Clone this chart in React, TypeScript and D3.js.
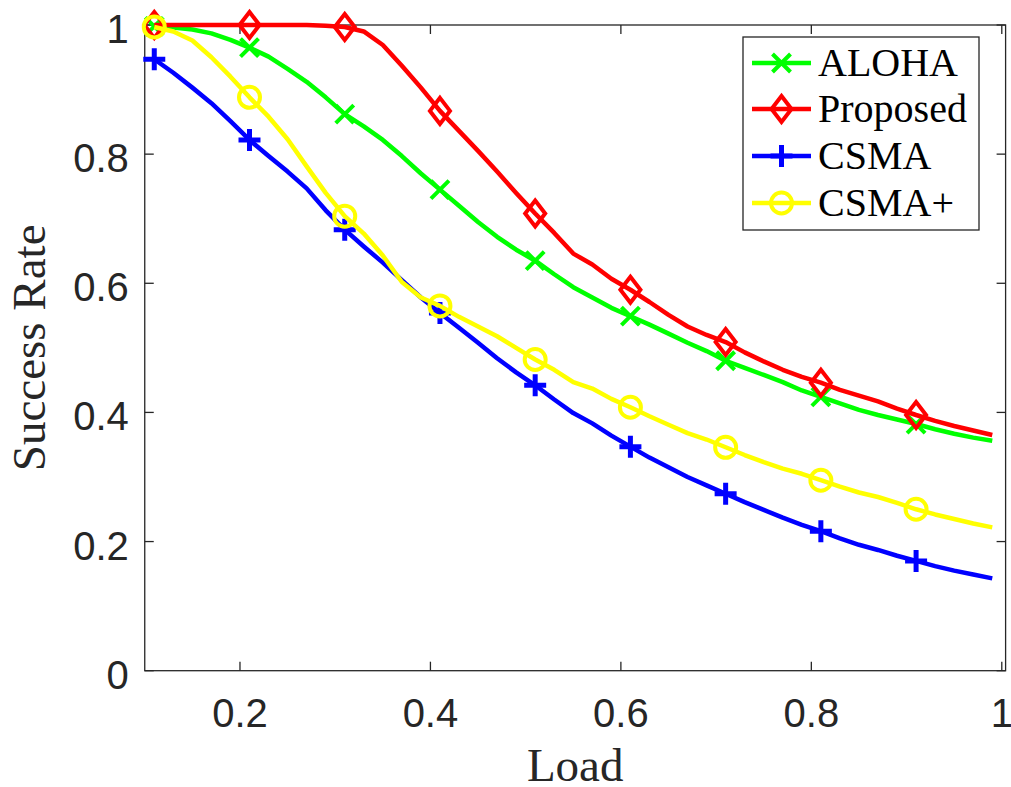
import React from "react";
import * as d3 from "d3";

const loads = [
  0.11, 0.13, 0.15, 0.17, 0.19, 0.21, 0.23, 0.25, 0.27, 0.29,
  0.31, 0.33, 0.35, 0.37, 0.39, 0.41, 0.43, 0.45, 0.47, 0.49,
  0.51, 0.53, 0.55, 0.57, 0.59, 0.61, 0.63, 0.65, 0.67, 0.69,
  0.71, 0.73, 0.75, 0.77, 0.79, 0.81, 0.83, 0.85, 0.87, 0.89,
  0.91, 0.93, 0.95, 0.97, 0.99,
];

const aloha = [
  0.998, 0.996, 0.993, 0.987, 0.977, 0.965, 0.951, 0.932, 0.912, 0.888,
  0.862, 0.843, 0.822, 0.797, 0.77, 0.745, 0.72, 0.695, 0.672, 0.652,
  0.635, 0.614, 0.594, 0.578, 0.562, 0.549, 0.536, 0.522, 0.508, 0.495,
  0.48, 0.469, 0.458, 0.447, 0.434, 0.424, 0.414, 0.404, 0.396, 0.389,
  0.382, 0.374, 0.367, 0.361, 0.356,
];

const proposed = [
  1.0, 1.0, 1.0, 1.0, 1.0, 1.0, 1.0, 1.0, 1.0, 0.999,
  0.997, 0.99, 0.969, 0.937, 0.903, 0.867, 0.836, 0.805, 0.773, 0.74,
  0.708, 0.678, 0.646, 0.629, 0.607, 0.59, 0.571, 0.551, 0.533, 0.52,
  0.509, 0.493, 0.479, 0.466, 0.455, 0.446, 0.435, 0.426, 0.417, 0.406,
  0.396, 0.387, 0.379, 0.372, 0.365,
];

const csma = [
  0.947, 0.926, 0.903, 0.879, 0.851, 0.822, 0.797, 0.773, 0.747, 0.713,
  0.683, 0.657, 0.632, 0.605, 0.578, 0.554, 0.531, 0.508, 0.484, 0.462,
  0.442, 0.42, 0.399, 0.383, 0.364, 0.347, 0.33, 0.315, 0.3, 0.287,
  0.274, 0.261, 0.249, 0.237, 0.226, 0.216, 0.205, 0.195, 0.187, 0.178,
  0.17, 0.162, 0.155, 0.149, 0.143,
];

const csmaPlus = [
  0.997, 0.99, 0.976, 0.95, 0.92, 0.888, 0.858, 0.823, 0.781, 0.74,
  0.704, 0.677, 0.643, 0.602, 0.578, 0.565, 0.548, 0.533, 0.518, 0.5,
  0.482, 0.466, 0.447, 0.437, 0.421, 0.408, 0.394, 0.381, 0.368, 0.358,
  0.346, 0.334, 0.323, 0.313, 0.305, 0.295, 0.285, 0.276, 0.269, 0.26,
  0.25, 0.242, 0.235, 0.228, 0.222,
];

const xTicks = [0.2, 0.4, 0.6, 0.8, 1];
const yTicks = [0, 0.2, 0.4, 0.6, 0.8, 1];
const xTickLabels = ["0.2", "0.4", "0.6", "0.8", "1"];
const yTickLabels = ["0", "0.2", "0.4", "0.6", "0.8", "1"];

const seriesNames = ["ALOHA", "Proposed", "CSMA", "CSMA+"];
const seriesColors = ["#00ff00", "#ff0000", "#0000ff", "#ffff00"];
const seriesMarkers = ["x", "diamond", "plus", "circle"];
const seriesValues = [aloha, proposed, csma, csmaPlus];

const W = 1011;
const H = 787;
const L = 144.75;
const R = 1005.6;
const T = 25;
const B = 670.7;

const axisColor = "#262626";

function Marker({ type, x, y, color }: { type: string; x: number; y: number; color: string }) {
  const sw = 4;
  if (type === "x") {
    const s = 9;
    return (
      <path
        d={`M${x - s},${y - s}L${x + s},${y + s}M${x - s},${y + s}L${x + s},${y - s}`}
        stroke={color}
        strokeWidth={sw}
        fill="none"
      />
    );
  }
  if (type === "plus") {
    const s = 11;
    return (
      <path
        d={`M${x - s},${y}L${x + s},${y}M${x},${y - s}L${x},${y + s}`}
        stroke={color}
        strokeWidth={sw + 1}
        fill="none"
      />
    );
  }
  if (type === "diamond") {
    const w = 10;
    const h = 13;
    return (
      <path
        d={`M${x},${y - h}L${x + w},${y}L${x},${y + h}L${x - w},${y}Z`}
        stroke={color}
        strokeWidth={sw}
        fill="none"
      />
    );
  }
  return <circle cx={x} cy={y} r={10.5} stroke={color} strokeWidth={sw} fill="none" />;
}

export default function App() {
  const x = d3.scaleLinear().domain([0.1, 1.004]).range([L, R]);
  const y = d3.scaleLinear().domain([0, 1]).range([B, T]);
  const line = d3
    .line<number>()
    .x((_, i) => x(loads[i]))
    .y((d) => y(d))
    .curve(d3.curveLinear);

  const tickLen = 9;
  const legX = 743;
  const legY = 37;
  const legW = 236;
  const legH = 193;
  const rowY = [63, 109, 156, 203];

  return (
    <svg width={W} height={H} style={{ display: "block", position: "absolute", left: 0, top: 0 }}>
      <rect x={0} y={0} width={W} height={H} fill="#ffffff" />
      {/* axes box */}
      <rect x={L} y={T} width={R - L} height={B - T} fill="none" stroke={axisColor} strokeWidth={1.3} />
      {xTicks.map((t) => (
        <g key={"xt" + t}>
          <line x1={x(t)} x2={x(t)} y1={B} y2={B - tickLen} stroke={axisColor} strokeWidth={1.3} />
          <line x1={x(t)} x2={x(t)} y1={T} y2={T + tickLen} stroke={axisColor} strokeWidth={1.3} />
        </g>
      ))}
      {yTicks.map((t) => (
        <g key={"yt" + t}>
          <line x1={L} x2={L + tickLen} y1={y(t)} y2={y(t)} stroke={axisColor} strokeWidth={1.3} />
          <line x1={R} x2={R - tickLen} y1={y(t)} y2={y(t)} stroke={axisColor} strokeWidth={1.3} />
        </g>
      ))}
      {/* tick labels */}
      <g fontFamily="'Liberation Sans', Arial, sans-serif" fontSize={40} fill={axisColor}>
        {xTicks.map((t, i) => (
          <text key={"xl" + t} x={x(t)} y={B + 56} textAnchor="middle">
            {xTickLabels[i]}
          </text>
        ))}
        {yTicks.map((t, i) => (
          <text key={"yl" + t} x={L - 16} y={y(t) + 18} textAnchor="end">
            {yTickLabels[i]}
          </text>
        ))}
      </g>
      {/* axis labels */}
      <g fontFamily="'Liberation Serif', 'Times New Roman', serif" fontSize={47} fill={axisColor}>
        <text x={(L + R) / 2} y={781} textAnchor="middle">
          Load
        </text>
        <text transform={`translate(45, ${(T + B) / 2}) rotate(-90)`} textAnchor="middle">
          Success Rate
        </text>
      </g>
      {/* series */}
      {seriesValues.map((vals, si) => (
        <g key={"s" + si}>
          <path d={line(vals) || ""} fill="none" stroke={seriesColors[si]} strokeWidth={4.5} strokeLinejoin="round" />
          {vals.map((v, i) =>
            i % 5 === 0 && i <= 40 ? (
              <Marker key={i} type={seriesMarkers[si]} x={x(loads[i])} y={y(v)} color={seriesColors[si]} />
            ) : null
          )}
        </g>
      ))}
      {/* legend */}
      <rect x={legX} y={legY} width={legW} height={legH} fill="#ffffff" stroke={axisColor} strokeWidth={1.3} />
      {seriesNames.map((n, i) => (
        <g key={"lg" + n}>
          <line x1={752} x2={811} y1={rowY[i]} y2={rowY[i]} stroke={seriesColors[i]} strokeWidth={4.5} />
          <Marker type={seriesMarkers[i]} x={781.5} y={rowY[i]} color={seriesColors[i]} />
          <text
            x={818}
            y={rowY[i] + 13}
            fontFamily="'Liberation Serif', 'Times New Roman', serif"
            fontSize={40}
            fill="#000000"
          >
            {n}
          </text>
        </g>
      ))}
    </svg>
  );
}
